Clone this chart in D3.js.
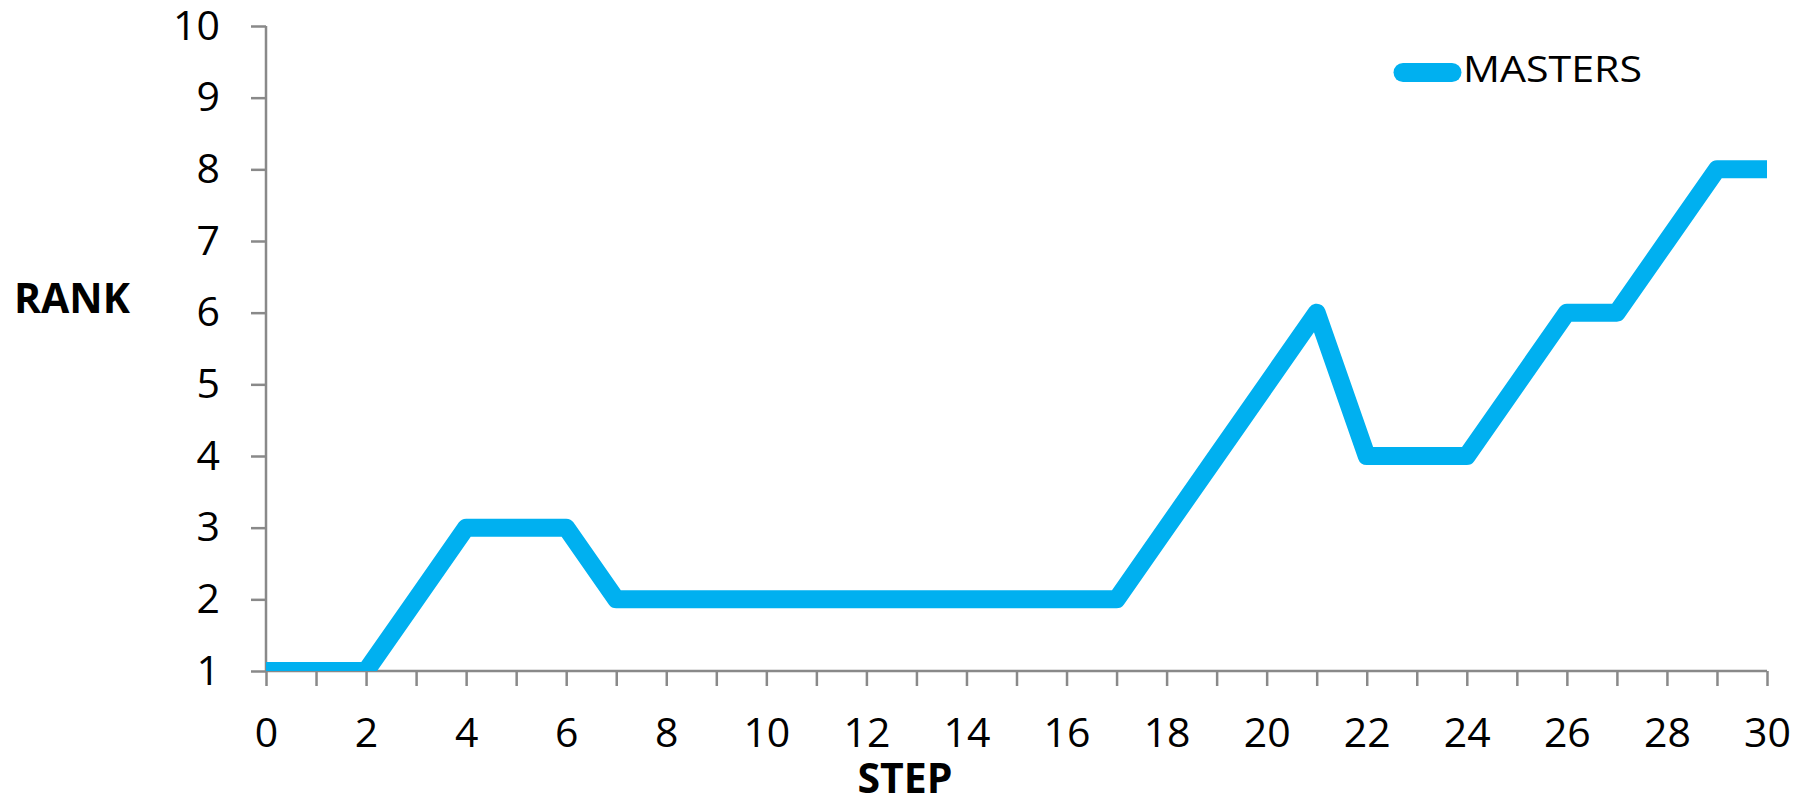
<!DOCTYPE html>
<html>
<head>
<meta charset="utf-8">
<script src="https://cdn.jsdelivr.net/npm/d3@7"></script>
<style>
    body { margin: 0; background: #fff; }
    text { font-family: "Open Sans", sans-serif; }
</style>
</head>
<body>
<div id="rank-chart"></div>
<script>
let step_list = [0, 1, 2, 3, 4, 5, 6, 7, 8, 9, 10, 11, 12, 13, 14, 15, 16, 17, 18, 19, 20, 21, 22, 23, 24, 25, 26, 27, 28, 29, 30];
let masters_rank = [1, 1, 1, 2, 3, 3, 3, 2, 2, 2, 2, 2, 2, 2, 2, 2, 2, 2, 3, 4, 5, 6, 4, 4, 4, 5, 6, 6, 7, 8, 8];
let y_tick_values = [1, 2, 3, 4, 5, 6, 7, 8, 9, 10];
let series_name = "MASTERS";
let x_title = "STEP";
let y_title = "RANK";

let width_chart = 1806;
let height_chart = 799;
let margin_chart = {top: 26, bottom: 128, left: 266, right: 39};

let line_color = "#00B0F0";
let axis_color = "#898989";

let svg_chart = d3.select("#rank-chart")
    .append("svg")
    .attr("width", width_chart)
    .attr("height", height_chart);

let xScale_chart = d3.scaleLinear().domain([0, 30]).range([margin_chart.left, width_chart - margin_chart.right]);
let yScale_chart = d3.scaleLinear().domain([1, 10]).range([height_chart - margin_chart.bottom, margin_chart.top]);

let xAxis_chart = d3.axisBottom(xScale_chart)
    .tickValues(step_list)
    .tickSize(15)
    .tickPadding(32)
    .tickFormat((d) => d % 2 === 0 ? d : "");
let yAxis_chart = d3.axisLeft(yScale_chart)
    .tickValues(y_tick_values)
    .tickSize(15)
    .tickPadding(31);

svg_chart.append("g")
    .attr("class", "xTicks")
    .attr("transform", "translate(0," + yScale_chart(1) + ")")
    .call(xAxis_chart);

svg_chart.append("g")
    .attr("class", "yTicks")
    .attr("transform", "translate(" + xScale_chart(0) + ",0)")
    .call(yAxis_chart);

svg_chart.selectAll(".xTicks path, .xTicks line, .yTicks path, .yTicks line")
    .attr("stroke", axis_color)
    .attr("stroke-width", 2.5);
svg_chart.selectAll(".xTicks text, .yTicks text")
    .attr("font-size", 41)
    .attr("fill", "#000");

// plain domain lines, no outer ticks
svg_chart.select(".xTicks path").attr("d", "M" + xScale_chart(0) + ",0H" + xScale_chart(30));
svg_chart.select(".yTicks path").attr("d", "M0," + yScale_chart(1) + "V" + yScale_chart(10));

svg_chart.append("clipPath")
    .attr("id", "plot_clip")
    .append("rect")
    .attr("x", xScale_chart(0))
    .attr("y", yScale_chart(10))
    .attr("width", xScale_chart(30) - xScale_chart(0))
    .attr("height", yScale_chart(1) - yScale_chart(10));

let line_gen = d3.line()
    .x((d, i) => xScale_chart(step_list[i]))
    .y((d) => yScale_chart(d));

svg_chart.append("path")
    .datum(masters_rank)
    .attr("clip-path", "url(#plot_clip)")
    .attr("d", line_gen)
    .attr("fill", "none")
    .attr("stroke", line_color)
    .attr("stroke-width", 18)
    .attr("stroke-linejoin", "round")
    .attr("stroke-linecap", "butt");

// legend
svg_chart.append("line")
    .attr("x1", 1403).attr("x2", 1452)
    .attr("y1", 72.5).attr("y2", 72.5)
    .attr("stroke", line_color)
    .attr("stroke-width", 19)
    .attr("stroke-linecap", "round");
svg_chart.append("text")
    .attr("x", 1463)
    .attr("y", 82)
    .attr("font-size", 36)
    .attr("textLength", 179)
    .attr("lengthAdjust", "spacingAndGlyphs")
    .text(series_name);

svg_chart.append("text")
    .attr("x", 14)
    .attr("y", 313)
    .attr("font-size", 41)
    .attr("font-weight", "bold")
    .text(y_title);
svg_chart.append("text")
    .attr("x", 905)
    .attr("y", 793)
    .attr("text-anchor", "middle")
    .attr("font-size", 41)
    .attr("font-weight", "bold")
    .text(x_title);
</script>
</body>
</html>
